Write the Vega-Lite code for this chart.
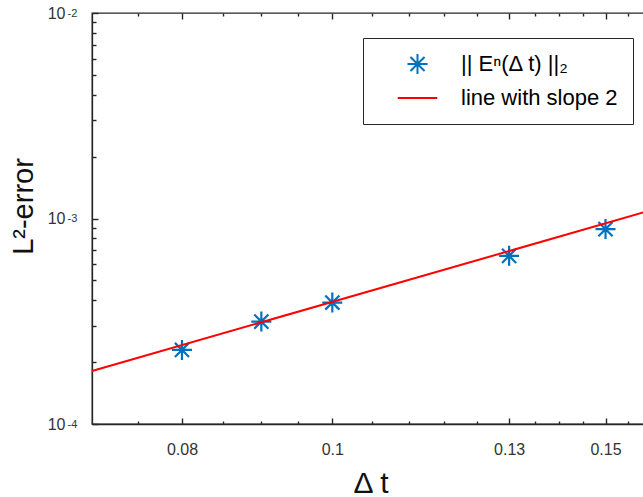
{
  "$schema": "https://vega.github.io/schema/vega-lite/v6.json",
  "autosize": {"type": "none"},
  "padding": {"left": 92, "top": 13, "right": 0, "bottom": 73},
  "width": 557,
  "height": 411,
  "background": "white",
  "datasets": {
    "pts": [
      {"dt": 0.08, "err": 0.0002293},
      {"dt": 0.09, "err": 0.000315},
      {"dt": 0.1, "err": 0.00039},
      {"dt": 0.13, "err": 0.000658},
      {"dt": 0.15, "err": 0.000888}
    ],
    "ref": [
      {"dt": 0.07, "err": 0.0001812},
      {"dt": 0.16, "err": 0.00109}
    ]
  },
  "config": {
    "view": {"stroke": "#262626", "strokeWidth": 1.3},
    "axis": {"grid": false, "tickColor": "#262626", "domainColor": "#262626", "tickWidth": 1.4, "domainWidth": 1.3, "labelFont": "Liberation Sans", "titleFont": "Liberation Sans", "labelColor": "#333333", "labelFontSize": 16, "titleFontWeight": "normal", "titleColor": "#111111", "labelFlush": false, "labelOverlap": false}
  },
  "resolve": {"axis": {"x": "independent", "y": "independent"}},
  "layer": [
    {
      "data": {"name": "pts"},
      "mark": {"type": "point", "shape": "M-1,0L1,0M0,-1L0,1M-0.707,-0.707L0.707,0.707M-0.707,0.707L0.707,-0.707", "size": 400, "strokeWidth": 2.2, "filled": false, "opacity": 1},
      "encoding": {
        "x": {"field": "dt", "type": "quantitative", "scale": {"type": "log", "domain": [0.07, 0.16], "nice": false},
          "axis": {"orient": "bottom", "offset": -3, "values": [0.075, 0.085, 0.09, 0.095, 0.106, 0.112, 0.118, 0.124, 0.135, 0.14, 0.145, 0.155], "tickSize": 3, "labels": false, "domain": false, "title": null}},
        "y": {"field": "err", "type": "quantitative", "scale": {"type": "log", "domain": [0.0001, 0.01], "nice": false},
          "axis": {"orient": "left", "offset": -4, "values": [0.0002, 0.0003, 0.0004, 0.0005, 0.0006, 0.0007, 0.0008, 0.0009, 0.002, 0.003, 0.004, 0.005, 0.006, 0.007, 0.008, 0.009], "tickSize": 4, "labels": false, "domain": false, "title": null}},
        "color": {"datum": "|| Eⁿ(Δ t) ||₂", "type": "nominal",
          "scale": {"domain": ["|| Eⁿ(Δ t) ||₂", "line with slope 2"], "range": ["#0072BD", "#FF0000"]},
          "legend": {"title": null, "orient": "none", "legendX": 271, "legendY": 25, "padding": 15, "rowPadding": 9,
            "strokeColor": "#262626", "fillColor": "white", "symbolSize": 400, "symbolStrokeWidth": 2, "symbolOffset": 28.5, "labelOffset": 32.5,
            "labelFont": "Liberation Sans", "labelFontSize": 22, "labelColor": "#000000", "labelLimit": 400,
            "encode": {"symbols": {"update": {
              "shape": {"signal": "datum.value === 'line with slope 2' ? 'M-1.975,0L1.975,0' : 'M-1,0L1,0M0,-1L0,1M-0.707,-0.707L0.707,0.707M-0.707,0.707L0.707,-0.707'"},
              "fill": {"value": "transparent"},
              "stroke": {"scale": "color", "field": "value"},
              "strokeWidth": {"value": 2},
              "size": {"value": 400},
              "opacity": {"value": 1}
            }}}
          }}
      }
    },
    {
      "data": {"name": "ref"},
      "mark": {"type": "line", "strokeWidth": 2},
      "encoding": {
        "x": {"field": "dt", "type": "quantitative",
          "axis": {"orient": "bottom", "values": [0.08, 0.1, 0.13, 0.15], "ticks": false, "labelPadding": 17, "labelBaseline": "top",
            "labelExpr": "datum.value > 0.099 && datum.value < 0.101 ? '0.1' : format(datum.value, '.2f')",
            "title": "Δ t", "titleFontSize": 30, "titleBaseline": "alphabetic", "titleY": 68}},
        "y": {"field": "err", "type": "quantitative",
          "axis": {"orient": "left", "values": [0.0001, 0.001, 0.01], "ticks": false, "labelPadding": 27, "labelBaseline": "middle", "labelAlign": "right",
            "labelExpr": "'10'",
            "title": "L²-error", "titleFontSize": 29, "titleX": -60, "titleY": 193, "titleBaseline": "alphabetic", "titleAlign": "center"}},
        "color": {"datum": "line with slope 2", "type": "nominal",
          "legend": {"title": null, "orient": "none", "legendX": 271, "legendY": 25, "padding": 15, "rowPadding": 9,
            "strokeColor": "#262626", "fillColor": "white", "symbolSize": 400, "symbolStrokeWidth": 2, "symbolOffset": 28.5, "labelOffset": 32.5,
            "labelFont": "Liberation Sans", "labelFontSize": 22, "labelColor": "#000000", "labelLimit": 400,
            "encode": {"symbols": {"update": {
              "shape": {"signal": "datum.value === 'line with slope 2' ? 'M-1.975,0L1.975,0' : 'M-1,0L1,0M0,-1L0,1M-0.707,-0.707L0.707,0.707M-0.707,0.707L0.707,-0.707'"},
              "fill": {"value": "transparent"},
              "stroke": {"scale": "color", "field": "value"},
              "strokeWidth": {"value": 2},
              "size": {"value": 400},
              "opacity": {"value": 1}
            }}}
          }}
      }
    },
    {
      "data": {"name": "pts"},
      "mark": {"type": "point", "opacity": 0},
      "encoding": {
        "x": {"field": "dt", "type": "quantitative",
          "axis": {"orient": "bottom", "offset": -6, "values": [0.08, 0.1, 0.13, 0.15], "tickSize": 6, "labels": false, "domain": false, "title": null}},
        "y": {"field": "err", "type": "quantitative",
          "axis": {"orient": "left", "offset": -6, "values": [0.0001, 0.001, 0.01], "tickSize": 6, "labels": false, "domain": false, "title": null}}
      }
    },
    {
      "data": {"name": "pts"},
      "mark": {"type": "point", "opacity": 0},
      "encoding": {
        "x": {"field": "dt", "type": "quantitative",
          "axis": {"orient": "top", "offset": -6, "values": [0.08, 0.1, 0.13, 0.15], "tickSize": 6, "labels": false, "domain": false, "title": null}},
        "y": {"field": "err", "type": "quantitative",
          "axis": {"orient": "left", "values": [0.0001, 0.001, 0.01], "ticks": false, "domain": false, "title": null, "labelPadding": 25, "labelAlign": "left", "labelBaseline": "middle", "labelDy": -6, "labelFontSize": 11,
            "labelExpr": "datum.value > 0.005 ? '-2' : datum.value > 0.0005 ? '-3' : '-4'"}}
      }
    },
    {
      "data": {"name": "pts"},
      "mark": {"type": "point", "opacity": 0},
      "encoding": {
        "x": {"field": "dt", "type": "quantitative",
          "axis": {"orient": "top", "offset": -3, "values": [0.075, 0.085, 0.09, 0.095, 0.106, 0.112, 0.118, 0.124, 0.135, 0.14, 0.145, 0.155], "tickSize": 3, "labels": false, "domain": false, "title": null}},
        "y": {"field": "err", "type": "quantitative", "axis": null}
      }
    }
  ]
}
